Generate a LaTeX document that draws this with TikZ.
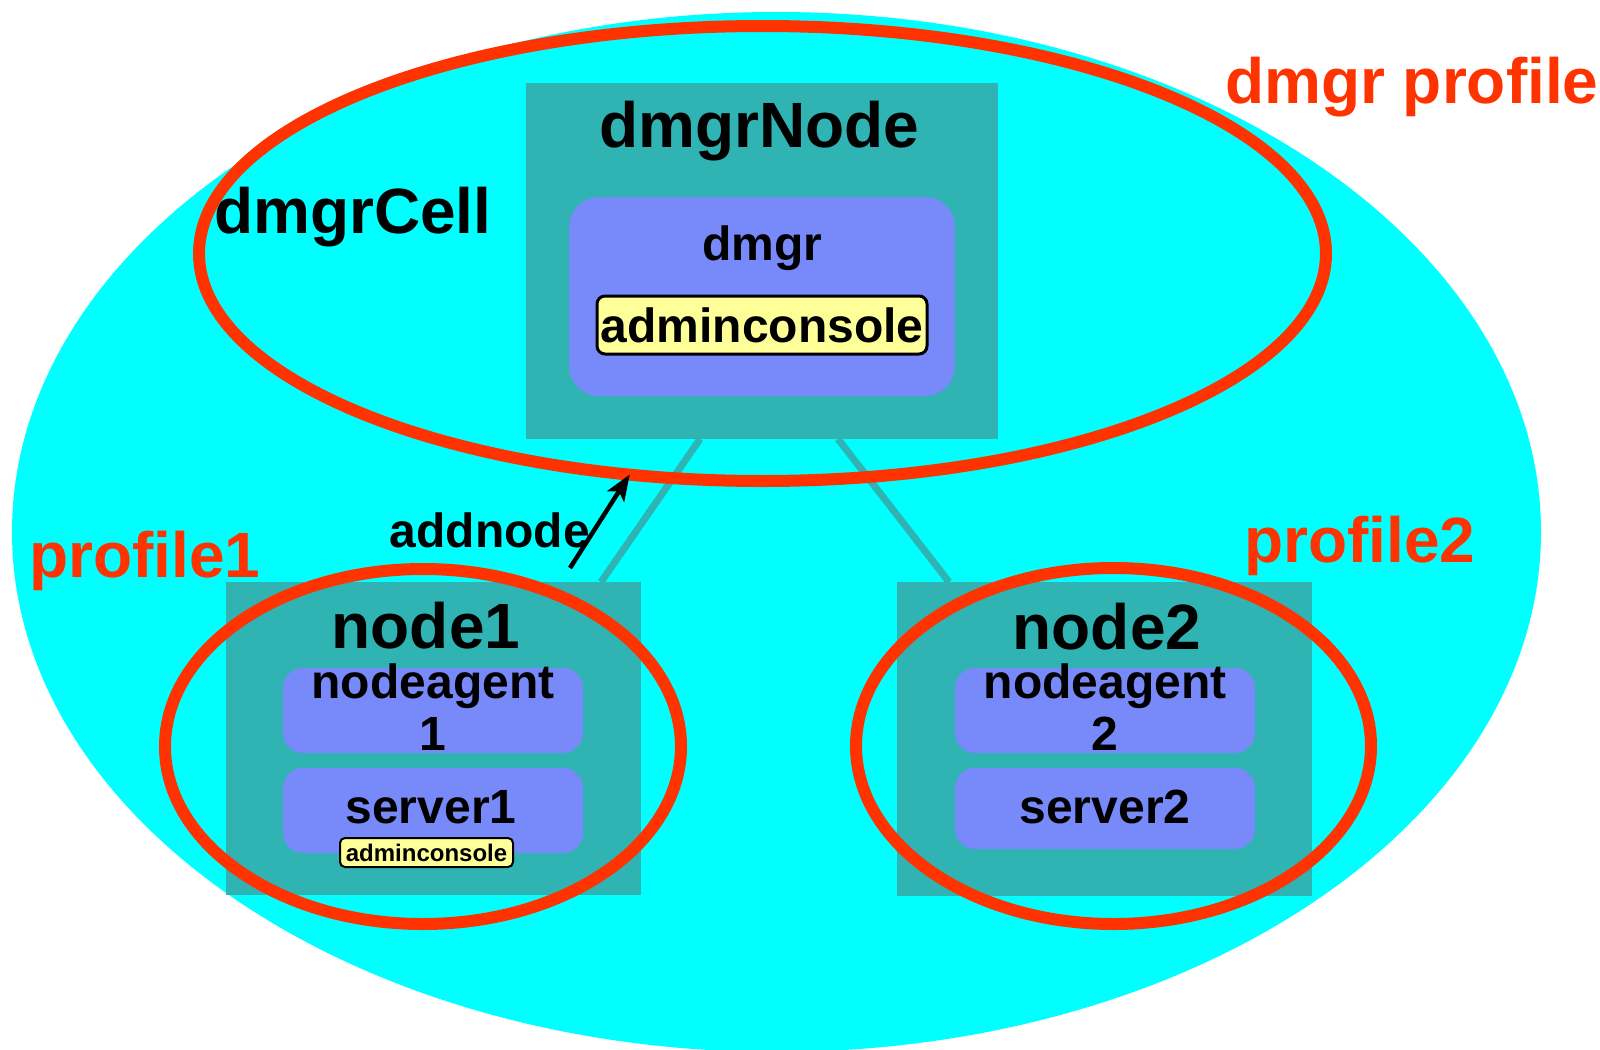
\documentclass[tikz,border=0pt]{standalone}
\usepackage{fontspec}
\setmainfont{Liberation Sans}
\usetikzlibrary{arrows.meta,calc,shapes.geometric}
\definecolor{cellcyan}{HTML}{00FFFF}
\definecolor{nodeteal}{HTML}{2FB3B3}
\definecolor{serverblue}{HTML}{7889F9}
\definecolor{consoleyellow}{HTML}{FFFF99}
\definecolor{profilered}{HTML}{FF3300}
\begin{document}
\begin{tikzpicture}[x=1pt,y=-1pt,
    nodebox/.style={fill=nodeteal,inner sep=0pt,outer sep=0pt},
    serverbox/.style={fill=serverblue,rounded corners=20pt,inner sep=0pt,outer sep=0pt},
    console/.style={fill=consoleyellow,draw=black,line width=3pt,rounded corners=8pt,
      inner sep=0pt,font=\bfseries\fontsize{48}{52}\selectfont},
    title/.style={inner sep=0pt,font=\bfseries\fontsize{64}{70}\selectfont},
    servertext/.style={inner sep=0pt,font=\bfseries\fontsize{48}{52}\selectfont},
    ring/.style={ellipse,draw=profilered,line width=12pt,inner sep=0pt,outer sep=0pt},
    conn/.style={draw=nodeteal,line width=7pt},
    addarrow/.style={line width=4.5pt,-{Stealth[length=26pt,width=20pt,inset=6pt]}}]
  \clip (0,0) rectangle (1600,1049);
  \fill[cellcyan] (776.5,532) ellipse [x radius=764.5pt, y radius=520pt];
  % dmgr node
  \node[nodebox, minimum width=472pt, minimum height=356pt] (dmgrnode) at (762,261) {};
  \node[serverbox, rounded corners=30pt, minimum width=386pt, minimum height=199pt] (dmgr) at (762,296.5) {};
  \node[console, minimum width=330pt, minimum height=58pt] (console) at (762,325) {adminconsole};
  \node[title, anchor=base] (dmgrnodetext) at (759,147) {dmgrNode};
  \node[servertext, anchor=base] (dmgrtext) at (762,260) {dmgr};
  % node1
  \node[nodebox, minimum width=415pt, minimum height=313pt] (node1) at (433.5,738.5) {};
  \node[serverbox, minimum width=300pt, minimum height=85pt] (agent1) at (433,710.5) {};
  \node[serverbox, minimum width=300pt, minimum height=85pt] (server1) at (433,810.5) {};
  \node[console, line width=2pt, rounded corners=5pt, font=\bfseries\fontsize{24}{26}\selectfont,
    minimum width=173pt, minimum height=29pt] (console1) at (426.5,852.5) {adminconsole};
  \node[title, anchor=base] (node1text) at (426,648) {node1};
  \node[servertext, anchor=base] (agent1text) at (433,698) {nodeagent};
  \node[servertext, anchor=base] (agent1num) at (433,750) {1};
  \node[servertext, anchor=base] (server1text) at (431,823) {server1};
  % node2
  \node[nodebox, minimum width=415pt, minimum height=314pt] (node2) at (1104.5,739) {};
  \node[serverbox, minimum width=300pt, minimum height=85pt] (agent2) at (1105,710.5) {};
  \node[serverbox, minimum width=300pt, minimum height=81pt] (server2) at (1105,808.5) {};
  \node[title, anchor=base] (node2text) at (1107,649) {node2};
  \node[servertext, anchor=base] (agent2text) at (1105,698) {nodeagent};
  \node[servertext, anchor=base] (agent2num) at (1105,750) {2};
  \node[servertext, anchor=base] (server2text) at (1105,823) {server2};
  % links
  \draw[conn] ($(dmgrnode.south)+(-62,0)$) -- ($(node1.north east)+(-40,0)$);
  \draw[conn] ($(dmgrnode.south)+(76,0)$) -- ($(node2.north west)+(52,0)$);
  % labels
  \node[title, anchor=base west] (celltext) at (214,233) {dmgrCell};
  \node[title, text=profilered, anchor=base west] (dmgrprofile) at (1225,103) {dmgr profile};
  \node[title, text=profilered, anchor=base west] (profile1) at (29,577) {profile1};
  \node[title, text=profilered, anchor=base west] (profile2) at (1244,562) {profile2};
  \node[servertext, anchor=base east] (addnode) at (590,547) {addnode};
  % profiles
  \node[ring, minimum width=1127pt, minimum height=455pt] (cellring) at (762.5,253.5) {};
  \node[ring, minimum width=516pt, minimum height=355pt] (ring1) at (423,746.5) {};
  \node[ring, minimum width=515pt, minimum height=356pt] (ring2) at (1113.5,746) {};
  \coordinate (addtail) at (570,568);
  \draw[addarrow] (addtail) -- (cellring.239);
\end{tikzpicture}
\end{document}
